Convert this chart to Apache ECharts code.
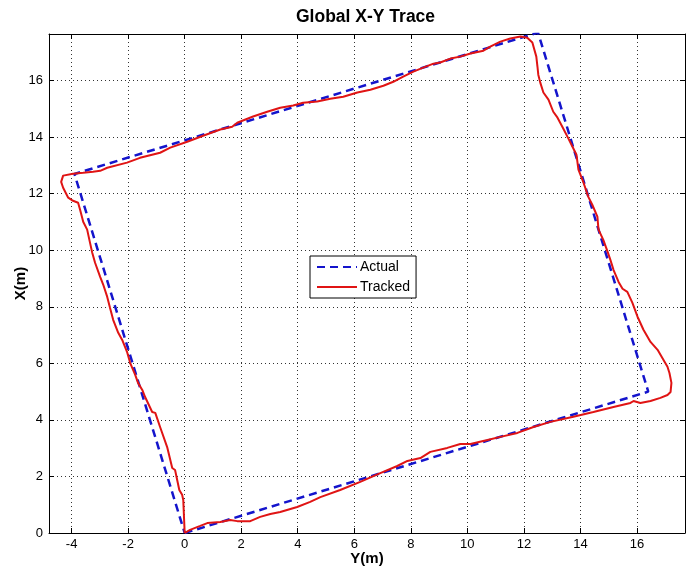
<!DOCTYPE html>
<html>
<head>
<meta charset="utf-8">
<script src="https://cdn.jsdelivr.net/npm/echarts@6/dist/echarts.min.js"></script>
<style>
html,body{margin:0;padding:0;background:#fff;}
#chart{width:690px;height:570px;}
</style>
</head>
<body>
<div id="chart"></div>
<script>
// Tick labels
const xTicks = [-4, -2, 0, 2, 4, 6, 8, 10, 12, 14, 16];
const yTicks = [0, 2, 4, 6, 8, 10, 12, 14, 16];

// Actual path: [Y(m), X(m)]
const actualY = [0, 16.4, 12.5, -3.9, 0];
const actualX = [0, 5.0, 17.7, 12.7, 0];

// Tracked path: [Y(m), X(m)]
const trackedY = [0, 0.19, 0.55, 0.80, 1.26, 1.61, 1.86, 2.32, 2.67, 3.03, 3.38, 3.98, 4.44, 4.80, 5.50, 6.21, 6.92, 7.52, 7.88, 8.34, 8.69, 9.29, 9.75, 10.11, 10.71, 11.17, 11.77, 12.34, 12.94, 13.75, 14.46, 15.17, 15.77, 15.88, 16.12, 16.48, 16.83, 17.08, 17.19, 17.22, 17.15, 17.08, 16.94, 16.73, 16.48, 16.23, 16.02, 15.84, 15.66, 15.49, 15.35, 15.17, 15.06, 14.96, 14.81, 14.64, 14.60, 14.42, 14.28, 14.11, 13.93, 13.86, 13.72, 13.54, 13.36, 13.19, 13.04, 12.87, 12.69, 12.58, 12.51, 12.48, 12.44, 12.30, 12.12, 11.88, 11.52, 11.17, 10.81, 10.57, 10.11, 9.75, 9.40, 9.04, 8.80, 8.44, 8.09, 7.73, 7.38, 7.03, 6.57, 6.11, 5.61, 5.15, 4.69, 4.19, 3.84, 3.38, 2.92, 2.42, 1.86, 1.68, 1.26, 0.65, 0.09, -0.51, -0.87, -1.58, -2.04, -2.74, -2.99, -3.24, -3.59, -3.95, -4.30, -4.37, -4.30, -4.12, -3.95, -3.77, -3.70, -3.59, -3.45, -3.35, -3.27, -3.17, -2.99, -2.88, -2.74, -2.64, -2.53, -2.35, -2.21, -2.04, -1.93, -1.75, -1.65, -1.50, -1.40, -1.15, -1.04, -0.87, -0.62, -0.44, -0.34, -0.19, -0.09, -0.05, 0];
const trackedX = [0, 0.11, 0.25, 0.35, 0.39, 0.46, 0.42, 0.42, 0.57, 0.67, 0.74, 0.92, 1.10, 1.27, 1.52, 1.81, 2.12, 2.37, 2.55, 2.65, 2.87, 3.01, 3.15, 3.15, 3.29, 3.40, 3.54, 3.75, 3.93, 4.11, 4.28, 4.46, 4.60, 4.67, 4.60, 4.67, 4.78, 4.88, 4.99, 5.31, 5.66, 5.88, 6.12, 6.48, 6.76, 7.19, 7.65, 8.14, 8.53, 8.64, 8.88, 9.31, 9.66, 9.95, 10.37, 10.73, 11.19, 11.61, 11.89, 12.39, 12.85, 13.38, 13.66, 14.02, 14.37, 14.69, 14.90, 15.33, 15.58, 15.93, 16.21, 16.50, 16.85, 17.35, 17.52, 17.56, 17.49, 17.38, 17.20, 17.06, 16.96, 16.85, 16.78, 16.64, 16.60, 16.46, 16.32, 16.14, 15.96, 15.82, 15.68, 15.58, 15.43, 15.36, 15.26, 15.22, 15.12, 15.04, 14.90, 14.73, 14.51, 14.37, 14.27, 14.05, 13.84, 13.63, 13.45, 13.27, 13.10, 12.92, 12.81, 12.78, 12.74, 12.71, 12.64, 12.42, 12.21, 11.86, 11.75, 11.68, 11.43, 11.01, 10.73, 10.27, 9.91, 9.56, 9.06, 8.78, 8.35, 7.96, 7.54, 7.08, 6.83, 6.41, 6.02, 5.59, 5.31, 5.06, 4.81, 4.28, 4.25, 3.75, 3.04, 2.30, 2.23, 1.52, 1.35, 1.17, 0];

const zip = (a, b) => a.map((v, i) => [v, b[i]]);

const FONT = 'Liberation Sans, Arial, sans-serif';
const X_MIN = -4.8, X_MAX = 17.7, Y_MIN = 0, Y_MAX = 17.65;

const chart = echarts.init(document.getElementById('chart'), null, {renderer: 'canvas'});

const gridLine = {show: true, lineStyle: {color: '#333', type: [1, 3], width: 1}};

chart.setOption({
  animation: false,
  backgroundColor: '#ffffff',
  title: {
    text: 'Global X-Y Trace',
    left: 296, top: 8, padding: 0,
    textStyle: {fontFamily: FONT, fontWeight: 'bold', fontSize: 17.5, color: '#000'}
  },
  legend: {
    orient: 'vertical',
    left: 310, top: 256,
    padding: [4, 6, 4, 6],
    itemGap: 6, itemWidth: 40, itemHeight: 14,
    backgroundColor: '#fff', borderColor: '#000', borderWidth: 1,
    borderRadius: 0,
    itemStyle: {opacity: 0, borderWidth: 0},
    textStyle: {fontFamily: FONT, fontSize: 14, color: '#000', padding: [0, 0, 0, -2]},
    data: ['Actual', 'Tracked']
  },
  grid: {left: 49, right: 5, top: 34, bottom: 37, containLabel: false, outerBoundsMode: 'none'},
  xAxis: [{
    type: 'value', min: X_MIN, max: X_MAX, position: 'bottom',
    name: 'Y(m)', nameLocation: 'middle', nameGap: 18, nameMoveOverlap: false,
    nameTextStyle: {fontFamily: FONT, fontWeight: 'bold', fontSize: 15, color: '#000'},
    axisLine: {show: true, onZero: false, lineStyle: {color: '#000', width: 1}},
    axisTick: {show: true, inside: true, length: 5, customValues: xTicks, lineStyle: {color: '#000'}},
    axisLabel: {show: true, customValues: xTicks, margin: 5, fontFamily: FONT, fontSize: 13, color: '#000'},
    splitLine: gridLine
  }, {
    type: 'value', min: X_MIN, max: X_MAX, position: 'top',
    axisLine: {show: true, onZero: false, lineStyle: {color: '#000', width: 1}},
    axisTick: {show: true, inside: true, length: 5, customValues: xTicks, lineStyle: {color: '#000'}},
    axisLabel: {show: false},
    splitLine: {show: false}
  }],
  yAxis: [{
    type: 'value', min: Y_MIN, max: Y_MAX, position: 'left',
    name: 'X(m)', nameLocation: 'middle', nameGap: 21, nameRotate: 90, nameMoveOverlap: false,
    nameTextStyle: {fontFamily: FONT, fontWeight: 'bold', fontSize: 15, color: '#000'},
    axisLine: {show: true, onZero: false, lineStyle: {color: '#000', width: 1}},
    axisTick: {show: true, inside: true, length: 5, customValues: yTicks, lineStyle: {color: '#000'}},
    axisLabel: {show: true, customValues: yTicks, margin: 6, fontFamily: FONT, fontSize: 13, color: '#000'},
    splitLine: gridLine
  }, {
    type: 'value', min: Y_MIN, max: Y_MAX, position: 'right',
    axisLine: {show: true, onZero: false, lineStyle: {color: '#000', width: 1}},
    axisTick: {show: true, inside: true, length: 5, customValues: yTicks, lineStyle: {color: '#000'}},
    axisLabel: {show: false},
    splitLine: {show: false}
  }],
  series: [{
    name: 'Actual', type: 'line', xAxisIndex: 0, yAxisIndex: 0,
    data: zip(actualY, actualX),
    showSymbol: false, symbol: 'none', clip: true,
    lineStyle: {color: '#1414cc', width: 2.5, type: [8, 5]},
    itemStyle: {color: '#1414cc'},
    z: 2
  }, {
    name: 'Tracked', type: 'line', xAxisIndex: 0, yAxisIndex: 0,
    data: zip(trackedY, trackedX),
    showSymbol: false, symbol: 'none', clip: true,
    lineStyle: {color: '#e01414', width: 2},
    itemStyle: {color: '#e01414'},
    z: 3
  }]
});
</script>
</body>
</html>
